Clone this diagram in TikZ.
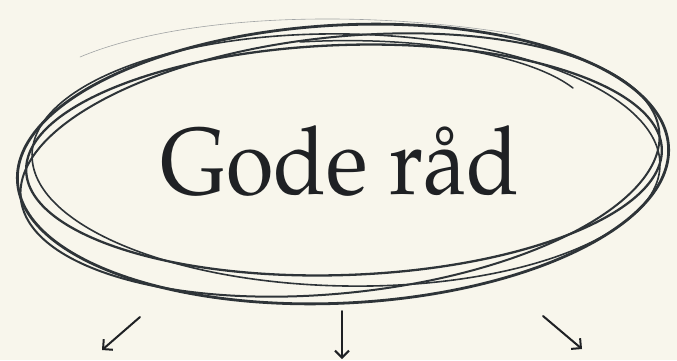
\documentclass[tikz,border=0pt]{standalone}
\usepackage[T1]{fontenc}
\usepackage{mathpazo}
\usetikzlibrary{arrows.meta}
\definecolor{bg}{HTML}{F8F6EC}
\definecolor{ink}{HTML}{2E3438}
\definecolor{txt}{HTML}{1F2124}
\tikzset{
  sketch/.style={draw=ink, line cap=round, line join=round},
  faint/.style={draw=ink!45, line width=0.6pt, line cap=round},
  arr/.style={draw=txt, line width=2pt, line cap=round, -{Straight Barb[length=7pt,width=14pt,line width=2pt]}},
  title/.style={text=txt, font=\fontsize{95}{95}\selectfont, inner sep=0pt, anchor=base}
}
\begin{document}
\begin{tikzpicture}[x=1pt,y=1pt]
\fill[bg] (0,0) rectangle (677,360);
\useasboundingbox (0,0) rectangle (677,360);
% hand-drawn ellipses
\draw[sketch, line width=2.3pt, rotate around={2:(344,200)}] (344,200) ellipse [x radius=318, y radius=115];
\draw[sketch, line width=2.8pt, rotate around={3:(343,196)}] (343,196) ellipse [x radius=326, y radius=139];
\draw[sketch, line width=2pt, rotate around={6:(340,195)}] (340,195) ellipse [x radius=321, y radius=128];
\draw[sketch, line width=1.6pt, rotate around={-1:(346,200)}] (346,200) ellipse [x radius=314, y radius=126];
% extra partial strokes
\draw[faint] (80,303) .. controls (180,345) and (360,352) .. (520,325);
\draw[sketch, line width=1.5pt] (300,318) .. controls (420,325) and (530,305) .. (573,272);
% title
\node[title] (t) at (340,166) {\scalebox{0.91}[1]{Gode r\aa d}};
% arrows
\coordinate (l0) at (140,43); \coordinate (l1) at (102,10);
\coordinate (m0) at (342,49); \coordinate (m1) at (342,1);
\coordinate (r0) at (543,44); \coordinate (r1) at (582,11);
\draw[arr] (l0) -- (l1);
\draw[arr] (m0) -- (m1);
\draw[arr] (r0) -- (r1);
\end{tikzpicture}
\end{document}
